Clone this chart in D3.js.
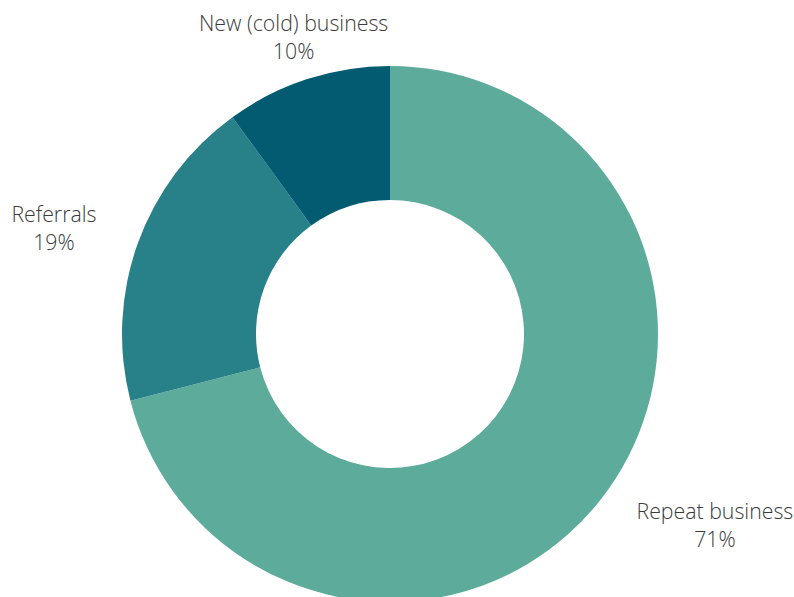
<!DOCTYPE html>
<html>
<head>
<meta charset="utf-8">
<script src="https://cdn.jsdelivr.net/npm/d3@7"></script>
<style>
  body { margin: 0; background: #fff; }
  text { font-family: "Open Sans", sans-serif; font-size: 21.3px; font-weight: 300; fill: #3a3a3a; }
</style>
</head>
<body>
<svg id="donut" width="794" height="597"></svg>
<script>
const categories = ["Repeat business", "Referrals", "New (cold) business"];
const shares = [71, 19, 10];
const colors = ["#5dab9a", "#288089", "#035b72"];

let svg = d3.select("#donut"),
    cx = 390, cy = 334,
    outer = 268, inner = 134, labelR = 312,
    g = svg.append("g").attr("transform", "translate(" + cx + "," + cy + ")");

let data = categories.map((c, i) => ({name: c, value: shares[i], color: colors[i]}));

let pie = d3.pie().sort(null).value(d => d.value);
let arc = d3.arc().innerRadius(inner).outerRadius(outer);

let arcs = pie(data);

g.selectAll(".slice")
  .data(arcs)
  .enter()
  .append("path")
  .attr("class", "slice")
  .attr("d", arc)
  .style("fill", d => d.data.color);

// labels: block edge touches the anchor point, lines centred in the block
let labels = g.selectAll(".label")
  .data(arcs)
  .enter()
  .append("text")
  .attr("class", "label")
  .attr("text-anchor", "middle");

labels.each(function(d) {
  let a = (d.startAngle + d.endAngle) / 2,
      s = Math.sin(a),
      x = labelR * s,
      y = -labelR * Math.cos(a);
  let t = d3.select(this);
  let l1 = t.append("tspan").attr("y", y - 6).text(d.data.name);
  let l2 = t.append("tspan").attr("y", y + 22).text(d.data.value + "%");
  let w = Math.max(l1.node().getComputedTextLength(), l2.node().getComputedTextLength());
  let mx = Math.abs(s) < 0.5 ? x : (s > 0 ? x + w / 2 : x - w / 2);
  l1.attr("x", mx);
  l2.attr("x", mx);
});
</script>
</body>
</html>
